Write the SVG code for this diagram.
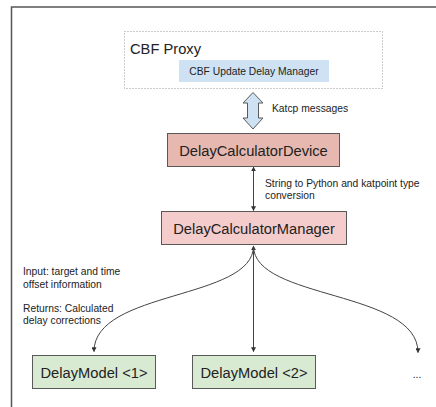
<svg xmlns="http://www.w3.org/2000/svg" width="436" height="407" viewBox="0 0 436 407">
<defs>
<style>
text{font-family:"Liberation Sans",Arial,sans-serif;fill:#222}
.big{font-size:14.7px}
.sm{font-size:10.3px}
.node{stroke:#595959;stroke-width:1}
.conn{fill:none;stroke:#444;stroke-width:1}
</style>
<marker id="ah" viewBox="0 0 8 8" refX="7" refY="4" markerWidth="5" markerHeight="5" orient="auto-start-reverse" markerUnits="userSpaceOnUse">
<path d="M0,0 L8,4 L0,8 z" fill="#333"/>
</marker>
</defs>
<rect x="0" y="0" width="436" height="407" fill="#fff"/>
<path d="M11.5,407 V7 H436" fill="none" stroke="#555" stroke-width="1.5"/>
<g id="cbf-proxy">
<rect x="124.5" y="31.5" width="258" height="57" fill="none" stroke="#999" stroke-width="1" stroke-dasharray="1,2"/>
<text x="130" y="54" class="big">CBF Proxy</text>
</g>
<g id="cbf-update-delay-manager">
<rect x="179" y="60" width="150" height="22" fill="#cfe2f3"/>
<text x="254" y="75" class="sm" text-anchor="middle">CBF Update Delay Manager</text>
</g>
<g id="delay-calculator-device">
<rect x="167.5" y="133.5" width="172" height="33" fill="#e6b8af" class="node"/>
<text x="253.5" y="155.5" class="big" text-anchor="middle">DelayCalculatorDevice</text>
</g>
<g id="delay-calculator-manager">
<rect x="161.5" y="211.5" width="185" height="33" fill="#f4cccc" class="node"/>
<text x="254" y="233.5" class="big" text-anchor="middle">DelayCalculatorManager</text>
</g>
<g id="delay-model-1">
<rect x="32.5" y="355.5" width="123" height="33" fill="#d9ead3" class="node"/>
<text x="94" y="377.5" class="big" text-anchor="middle">DelayModel &lt;1&gt;</text>
</g>
<g id="delay-model-2">
<rect x="192.5" y="355.5" width="123" height="33" fill="#d9ead3" class="node"/>
<text x="254" y="377.5" class="big" text-anchor="middle">DelayModel &lt;2&gt;</text>
</g>
<g id="more">
<text x="417" y="378" class="sm" text-anchor="middle">...</text>
</g>
<g id="connectors">
<path d="M253,92.5 L263,103 L258.5,103 L258.5,118 L263,118 L253,129 L243,118 L247.5,118 L247.5,103 L243,103 Z" fill="#cfe2f3" stroke="#595959" stroke-width="1"/>
<line x1="253.5" y1="167" x2="253.5" y2="210.5" class="conn" marker-start="url(#ah)" marker-end="url(#ah)"/>
<path d="M253.5,246 C253.5,300 94,290 94,351.5" class="conn" marker-start="url(#ah)" marker-end="url(#ah)"/>
<line x1="253.5" y1="246" x2="253.5" y2="351.5" class="conn" marker-end="url(#ah)"/>
<path d="M253.5,246 C253.5,300 418,290 418,352.5" class="conn" marker-end="url(#ah)"/>
</g>
<g id="labels">
<text x="272" y="112" class="sm">Katcp messages</text>
<text x="265" y="187" class="sm">String to Python and katpoint type</text>
<text x="265" y="199" class="sm">conversion</text>
<text x="23" y="275" class="sm">Input: target and time</text>
<text x="23" y="287.5" class="sm">offset  information</text>
<text x="23" y="311.5" class="sm">Returns: Calculated</text>
<text x="23" y="324" class="sm">delay corrections</text>
</g>
</svg>
